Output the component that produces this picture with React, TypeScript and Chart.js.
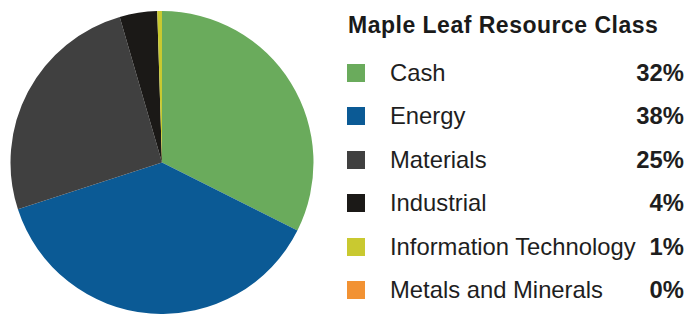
import React, { useEffect, useRef } from "react";
import { Chart, registerables } from "chart.js";

Chart.register(...registerables);

const title = "Maple Leaf Resource Class";
const categories = ["Cash", "Energy", "Materials", "Industrial", "Information Technology", "Metals and Minerals"];
const sliceValues = [32.4, 37.6, 25.5, 4.0, 0.5, 0];
const percentLabels = ["32%", "38%", "25%", "4%", "1%", "0%"];
const colors = ["#6aab5c", "#0b5a95", "#404040", "#1b1917", "#c9c930", "#f29233"];

const FONT = '"Liberation Sans", Arial, Helvetica, sans-serif';
const ITEM_SIZE = 23.8;
const TITLE_SIZE = 23;
const baselines = [81, 124, 168, 211, 255, 298];

export default function App() {
  const ref = useRef<HTMLCanvasElement | null>(null);

  useEffect(() => {
    document.body.style.margin = "0";
    const ctx = ref.current;
    if (!ctx) return;
    const chart = new Chart(ctx, {
      type: "pie",
      data: {
        labels: categories,
        datasets: [
          {
            data: sliceValues,
            backgroundColor: colors,
            borderWidth: 0,
          },
        ],
      },
      options: {
        animation: false,
        responsive: false,
        maintainAspectRatio: false,
        layout: { padding: { left: 10, top: 11, right: 0, bottom: 0 } },
        plugins: {
          legend: { display: false },
          tooltip: { enabled: false },
        },
      },
    });
    return () => chart.destroy();
  }, []);

  const itemOffset = ITEM_SIZE * 0.8465;

  return (
    <div style={{ position: "relative", width: 687, height: 314, background: "#fff", overflow: "hidden" }}>
      <canvas ref={ref} width={314} height={314} style={{ position: "absolute", left: 0, top: 0, width: 314, height: 314 }} />
      <div
        style={{
          position: "absolute",
          left: 348,
          top: 33 - TITLE_SIZE * 0.8465,
          fontFamily: FONT,
          fontWeight: "bold",
          fontSize: TITLE_SIZE,
          lineHeight: TITLE_SIZE + "px",
          letterSpacing: "0.5px",
          color: "#1a1a1a",
          whiteSpace: "nowrap",
        }}
      >
        {title}
      </div>
      {categories.map((c, i) => (
        <React.Fragment key={c}>
          <div
            style={{
              position: "absolute",
              left: 347,
              top: baselines[i] - 17,
              width: 18,
              height: 18,
              background: colors[i],
            }}
          />
          <div
            style={{
              position: "absolute",
              left: 390,
              top: baselines[i] - itemOffset,
              fontFamily: FONT,
              fontSize: ITEM_SIZE,
              lineHeight: ITEM_SIZE + "px",
              color: "#1e1e1e",
              whiteSpace: "nowrap",
            }}
          >
            {c}
          </div>
          <div
            style={{
              position: "absolute",
              right: 687 - 684,
              top: baselines[i] - itemOffset,
              fontFamily: FONT,
              fontWeight: "bold",
              fontSize: ITEM_SIZE,
              lineHeight: ITEM_SIZE + "px",
              color: "#1e1e1e",
              whiteSpace: "nowrap",
            }}
          >
            {percentLabels[i]}
          </div>
        </React.Fragment>
      ))}
    </div>
  );
}
